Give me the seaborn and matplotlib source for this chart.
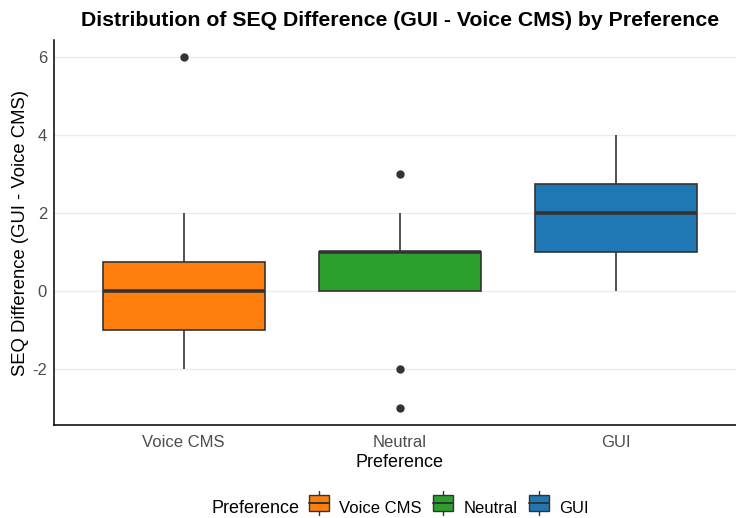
import pandas as pd
import matplotlib.pyplot as plt
import seaborn as sns
from matplotlib.patches import Rectangle
from matplotlib.lines import Line2D
from matplotlib.legend_handler import HandlerBase

# SEQ difference scores per preference group
voice_cms = [-2, -1, -1, -1, 0, 0, 0, 1, 2, 6]
neutral = [-3, -2, 0, 0, 0, 1, 1, 1, 1, 1, 2, 3]
gui = [0, 1, 1, 1, 2, 2, 2, 3, 3, 4]

groups = ["Voice CMS", "Neutral", "GUI"]
colors = ["#FF7F0E", "#2CA02C", "#1F77B4"]
y_ticks = [-2, 0, 2, 4, 6]

df = pd.DataFrame({
    "Preference": ["Voice CMS"] * len(voice_cms) + ["Neutral"] * len(neutral) + ["GUI"] * len(gui),
    "diff": voice_cms + neutral + gui,
})

sns.set_style("white")
plt.rcParams["font.family"] = ["Liberation Sans", "DejaVu Sans"]
plt.rcParams["axes.unicode_minus"] = False
plt.rcParams["text.color"] = "black"
plt.rcParams["axes.labelcolor"] = "black"

fig = plt.figure(figsize=(7.36, 5.18), dpi=100)
ax = fig.add_axes([0.0734, 0.1795, 0.94, 0.7433])

edge = "#333333"
sns.boxplot(data=df, x="Preference", y="diff", hue="Preference", order=groups,
            hue_order=groups, palette=colors, saturation=1, width=0.75, linecolor=edge,
            linewidth=1.2, showcaps=False, legend=False, ax=ax,
            medianprops=dict(linewidth=2.6, color=edge),
            flierprops=dict(marker="o", markerfacecolor=edge, markeredgecolor=edge,
                            markersize=5))

ax.set_xlim(-0.6, 2.6)
ax.set_ylim(-3.45, 6.45)
ax.set_yticks(y_ticks)
ax.yaxis.grid(True, color="#EBEBEB", linewidth=1.0)
ax.set_axisbelow(True)
for s in ["top", "right"]:
    ax.spines[s].set_visible(False)
for s in ["left", "bottom"]:
    ax.spines[s].set_color("black")
    ax.spines[s].set_linewidth(1.1)
ax.tick_params(axis="both", length=3, width=0.8, color="#333333",
               labelcolor="#4D4D4D", labelsize=12, pad=2)
ax.tick_params(axis="x", pad=4)

ax.set_xlabel("Preference", fontsize=13, color="black", labelpad=3)
ax.set_ylabel("SEQ Difference (GUI - Voice CMS)", fontsize=13.3, color="black", labelpad=2)
ax.set_title("Distribution of SEQ Difference (GUI - Voice CMS) by Preference",
             fontsize=15.3, fontweight="bold", pad=10, color="black")


class BoxKey(HandlerBase):
    def create_artists(self, legend, orig, xd, yd, w, h, fontsize, trans):
        rect = Rectangle((xd, yd), w, h, facecolor=orig.get_facecolor(),
                         edgecolor=edge, linewidth=1.0, transform=trans)
        med = Line2D([xd, xd + w], [yd + h / 2] * 2, color=edge, linewidth=1.4, transform=trans)
        top = Line2D([xd + w / 2] * 2, [yd + h, yd + h + 3], color=edge, linewidth=1.0, transform=trans)
        bot = Line2D([xd + w / 2] * 2, [yd - 3, yd], color=edge, linewidth=1.0, transform=trans)
        return [rect, med, top, bot]


handles = [Rectangle((0, 0), 1, 1, facecolor=c) for c in colors]
fig.legend(handles, groups, handler_map={Rectangle: BoxKey()}, ncol=3,
           loc="center", bbox_to_anchor=(0.61, 0.019), frameon=False,
           fontsize=12, handlelength=1.2, handleheight=1.1, columnspacing=0.7,
           handletextpad=0.6)
fig.text(0.288, 0.019, "Preference", fontsize=13, ha="left", va="center")

fig.savefig("out.png", dpi=100)
